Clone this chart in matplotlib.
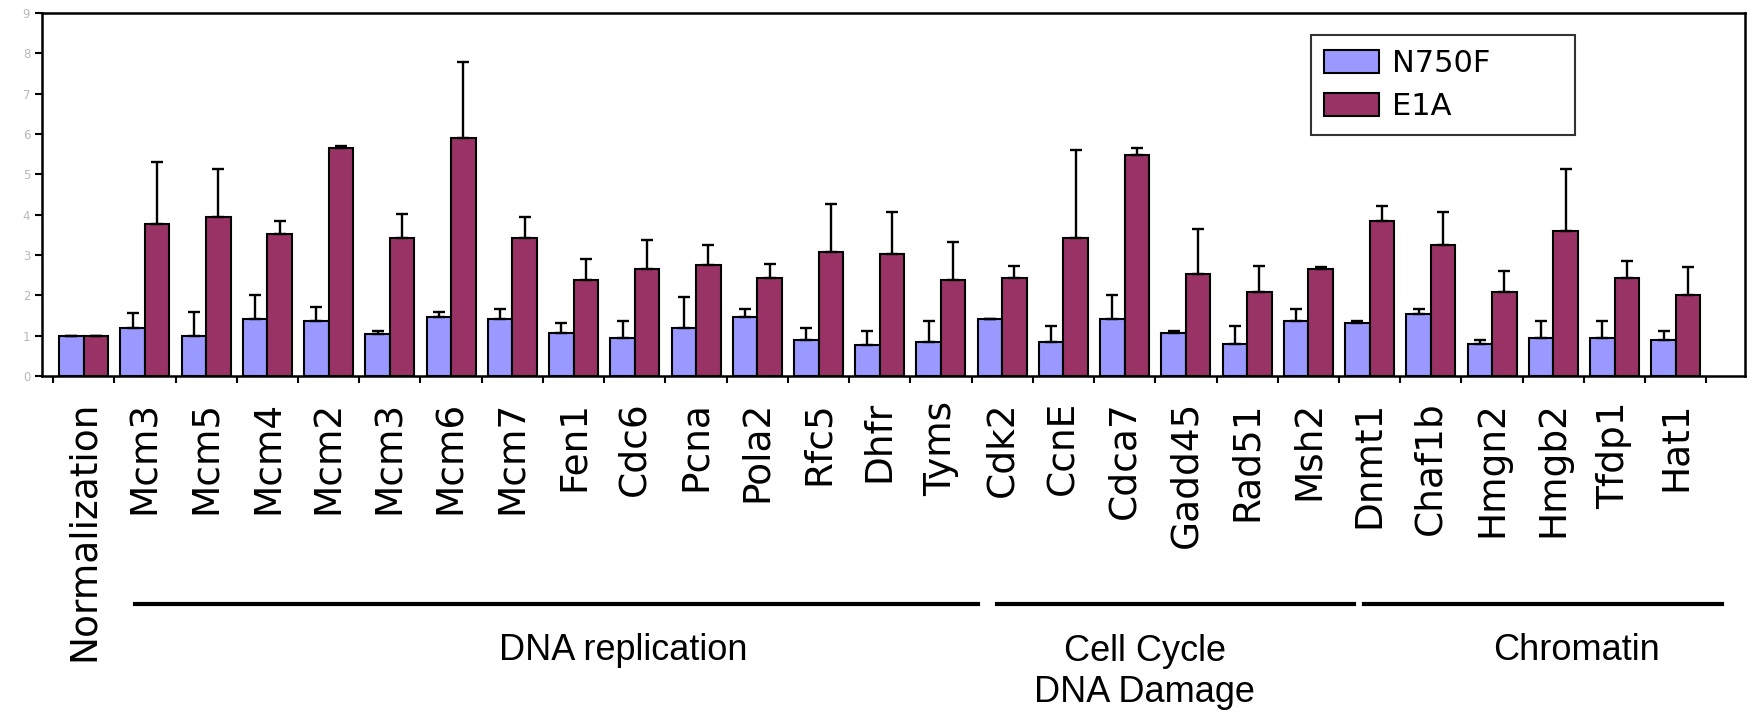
import numpy as np
import matplotlib.pyplot as plt
from matplotlib.ticker import FixedLocator

# Gene names along the x axis
genes = ["Normalization", "Mcm3", "Mcm5", "Mcm4", "Mcm2", "Mcm3", "Mcm6", "Mcm7",
         "Fen1", "Cdc6", "Pcna", "Pola2", "Rfc5", "Dhfr", "Tyms",
         "Cdk2", "CcnE", "Cdca7", "Gadd45", "Rad51", "Msh2",
         "Dnmt1", "Chaf1b", "Hmgn2", "Hmgb2", "Tfdp1", "Hat1"]

# Relative expression (mean) and upper error bar for each line
n750f = [1.00, 1.18, 0.99, 1.41, 1.36, 1.05, 1.47, 1.42, 1.06, 0.94, 1.18, 1.47, 0.88, 0.77, 0.83,
         1.42, 0.83, 1.42, 1.07, 0.78, 1.36, 1.30, 1.54, 0.78, 0.95, 0.95, 0.89]
n750f_err = [0.00, 0.37, 0.60, 0.60, 0.35, 0.06, 0.12, 0.24, 0.24, 0.42, 0.77, 0.19, 0.30, 0.35, 0.53,
             0.00, 0.42, 0.58, 0.04, 0.47, 0.30, 0.05, 0.12, 0.11, 0.41, 0.41, 0.23]
e1a = [1.00, 3.77, 3.95, 3.53, 5.66, 3.42, 5.89, 3.42, 2.37, 2.66, 2.76, 2.43, 3.08, 3.01, 2.37,
       2.42, 3.41, 5.48, 2.53, 2.07, 2.66, 3.83, 3.24, 2.07, 3.60, 2.42, 2.00]
e1a_err = [0.00, 1.53, 1.17, 0.30, 0.05, 0.59, 1.89, 0.53, 0.52, 0.70, 0.48, 0.34, 1.17, 1.06, 0.94,
           0.30, 2.19, 0.18, 1.12, 0.65, 0.05, 0.37, 0.82, 0.53, 1.52, 0.42, 0.71]

# Functional groups: (label, first gene index, last gene index)
groups = [("DNA replication", 1, 14),
          ("Cell Cycle\nDNA Damage", 15, 20),
          ("Chromatin", 21, 26)]

blue = "#9999ff"
plum = "#993366"

fig = plt.figure(figsize=(17.52, 7.12), dpi=100)
ax = fig.add_axes([0.024, 0.472, 0.972, 0.51])

x = np.arange(len(genes))
w = 0.4
zeros = np.zeros(len(genes))

ax.bar(x - w / 2, n750f, w, color=blue, edgecolor="black", linewidth=1.5, label="N750F", zorder=2)
ax.bar(x + w / 2, e1a, w, color=plum, edgecolor="black", linewidth=1.5, label="E1A", zorder=2)

ax.errorbar(x - w / 2, n750f, yerr=[zeros, n750f_err], fmt="none", ecolor="black",
            elinewidth=1.7, capsize=4, capthick=1.7, zorder=3)
ax.errorbar(x + w / 2, e1a, yerr=[zeros, e1a_err], fmt="none", ecolor="black",
            elinewidth=1.7, capsize=4, capthick=1.7, zorder=3)

ax.set_xlim(-0.68, 27.13)
ax.set_ylim(0, 9)
ax.set_yticks(range(10))
ax.tick_params(axis="y", labelsize=8.5, labelcolor="#b8b8b8", length=5, width=1.5, direction="out")

ax.set_xticks(x)
ax.set_xticklabels(genes, rotation=90, fontsize=27)
ax.tick_params(axis="x", which="major", length=0, pad=18)
ax.xaxis.set_minor_locator(FixedLocator(np.arange(-0.5, len(genes) + 0.5, 1)))
ax.tick_params(axis="x", which="minor", length=5, width=1.5, direction="out")

for s in ax.spines.values():
    s.set_linewidth(1.8)

leg = ax.legend(loc="upper left", bbox_to_anchor=(0.745, 0.66, 0.155, 0.278), mode="expand",
                fontsize=22, frameon=True, fancybox=False, edgecolor="black",
                handlelength=1.8, handleheight=0.8, handletextpad=0.4,
                borderpad=0.45, labelspacing=0.45, borderaxespad=0)
leg.get_frame().set_linewidth(1.5)

# Group brackets under the gene names
trans = ax.get_xaxis_transform()
label_shift = [1.1, -0.5, 0.55]
for (name, i0, i1), dx in zip(groups, label_shift):
    x0, x1 = i0 - 0.17, i1 + 0.6
    if i0 > 1:
        x0, x1 = x0 + 0.08, x1 + 0.15
    ax.plot([x0, x1], [-0.628, -0.628], color="black", lw=3, transform=trans, clip_on=False)
    ypos = -0.815 if "\n" in name else -0.755
    ax.text((x0 + x1) / 2 + dx, ypos, name, transform=trans, ha="center", va="center",
            fontsize=26, family="Liberation Sans", linespacing=1.2)

fig.savefig("out.png", dpi=100)
